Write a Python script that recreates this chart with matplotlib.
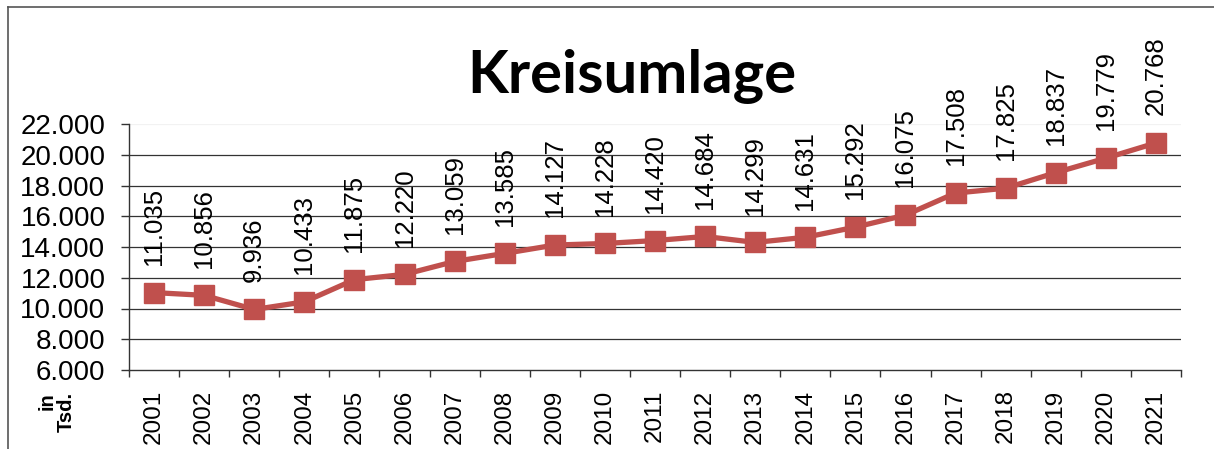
import matplotlib
matplotlib.use('Agg')
import matplotlib.pyplot as plt
from matplotlib.lines import Line2D
from matplotlib.ticker import FuncFormatter, FixedLocator

years = [str(y) for y in range(2001, 2022)]
values = [11035, 10856, 9936, 10433, 11875, 12220, 13059, 13585, 14127, 14228,
          14420, 14684, 14299, 14631, 15292, 16075, 17508, 17825, 18837, 19779, 20768]
y_ticks = [6000, 8000, 10000, 12000, 14000, 16000, 18000, 20000, 22000]

LINE_COLOR = '#C0504D'
FONT = ['Liberation Sans', 'DejaVu Sans']


def de_fmt(v, _pos=None):
    # deutsches Tausendertrennzeichen
    return f"{int(v):,}".replace(',', '.')


fig = plt.figure(figsize=(12.14, 4.49), dpi=100)
ax = fig.add_axes([129 / 1214, 1 - 370 / 449, (1181 - 129) / 1214, (370 - 124) / 449])

x = list(range(len(years)))
ax.plot(x, values, color=LINE_COLOR, lw=3.8, marker='s', ms=14.5,
        mfc=LINE_COLOR, mec=LINE_COLOR, zorder=3)

for xi, v in zip(x, values):
    ax.annotate(de_fmt(v), (xi, v), xytext=(0, 20), textcoords='offset points',
                rotation=90, ha='center', va='bottom', fontsize=18.5,
                family=FONT, color='black', zorder=4)

ax.set_xlim(-0.5, len(years) - 0.5)
ax.set_ylim(6000, 22000)

# Gitterlinien
for t in y_ticks[1:-1]:
    ax.axhline(t, color='#333333', lw=0.9, zorder=1)
ax.axhline(22000, color='#f2f2f2', lw=0.9, zorder=1)

ax.yaxis.set_major_locator(FixedLocator(y_ticks))
ax.yaxis.set_major_formatter(FuncFormatter(de_fmt))
ax.set_xticks(x)
ax.set_xticklabels(years, rotation=90)
ax.xaxis.set_minor_locator(FixedLocator([i - 0.5 for i in range(len(years) + 1)]))
ax.tick_params(axis='x', which='major', length=0, pad=14)
ax.tick_params(axis='x', which='minor', length=5, width=1, color='#333333')
ax.tick_params(axis='y', length=6, width=1, color='#333333', pad=11)
for lbl in ax.get_xticklabels():
    lbl.set_family(FONT)
    lbl.set_fontsize(17.5)
for lbl in ax.get_yticklabels():
    lbl.set_family(FONT)
    lbl.set_fontsize(20)

for s in ['top', 'right']:
    ax.spines[s].set_visible(False)
for s in ['left', 'bottom']:
    ax.spines[s].set_color('#333333')
    ax.spines[s].set_linewidth(1)

fig.text(632 / 1214, 1 - 77 / 449, 'Kreisumlage', ha='center', va='center',
         fontsize=43, fontweight='bold', family=['Lato', 'DejaVu Sans'])
fig.text(57 / 1214, 1 - 412 / 449, 'in\nTsd.', rotation=90, ha='center', va='center',
         multialignment='right', fontsize=14.5, fontweight='bold', family=FONT,
         linespacing=1.0)

# Rahmen
fig.add_artist(Line2D([8 / 1214, 8 / 1214], [0, 1 - 7 / 449], color='#555555', lw=1.2))
fig.add_artist(Line2D([8 / 1214, 1], [1 - 7 / 449, 1 - 7 / 449], color='#555555', lw=1.2))

fig.savefig('out.png', dpi=100)
